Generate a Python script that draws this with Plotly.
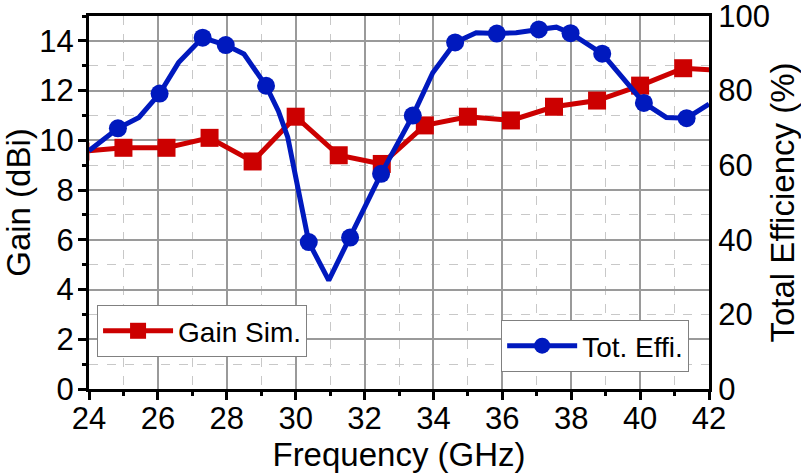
import plotly.graph_objects as go

# Gain (dBi) vs frequency (GHz) -- red squares
gain_freq = [23.75, 25.0, 26.25, 27.5, 28.75, 30.0, 31.25, 32.5, 33.75, 35.0,
             36.25, 37.5, 38.75, 40.0, 41.25, 42.5]
gain_vals = [9.55, 9.7, 9.7, 10.1, 9.15, 10.95, 9.4, 9.05, 10.6, 10.95,
             10.8, 11.35, 11.6, 12.2, 12.9, 12.8]

# Total efficiency (%) -- dense curve
eff_freq = [24.0, 24.84, 25.45, 26.05, 26.6, 27.3, 27.97, 28.5, 29.14, 29.5,
            29.77, 30.38, 30.96, 31.58, 32.48, 33.4, 33.98, 34.63, 35.24, 35.84,
            36.4, 37.06, 37.57, 37.98, 38.9, 40.11, 40.76, 41.35, 42.0]
eff_vals = [63.9, 69.9, 72.8, 79.2, 87.5, 94.2, 92.2, 89.8, 81.3, 74.5,
            67.5, 39.4, 29.1, 40.6, 57.7, 73.3, 84.8, 92.9, 95.5, 95.3,
            95.5, 96.4, 97.0, 95.4, 89.9, 76.7, 72.8, 72.6, 76.4]
# efficiency samples that carry a circle marker
eff_marker_freq = [24.84, 26.05, 27.3, 27.97, 29.14, 30.38, 31.58, 32.48, 33.4,
                   34.63, 35.84, 37.06, 37.98, 38.9, 40.11, 41.35]
eff_marker_vals = [69.9, 79.2, 94.2, 92.2, 81.3, 39.4, 40.6, 57.7, 73.3,
                   92.9, 95.3, 96.4, 95.4, 89.9, 76.7, 72.6]

x_ticks = [24, 26, 28, 30, 32, 34, 36, 38, 40, 42]
gain_ticks = [0, 2, 4, 6, 8, 10, 12, 14]
eff_ticks = [0, 20, 40, 60, 80, 100]

RED = "#CC0000"
BLUE = "#0019BE"
FONT = "Liberation Sans, Arial, sans-serif"

fig = go.Figure()

fig.add_trace(go.Scatter(
    x=gain_freq, y=gain_vals, mode="lines+markers", name="Gain Sim.",
    line=dict(color=RED, width=5),
    marker=dict(symbol="square", size=18, color=RED),
    legend="legend", yaxis="y"))

fig.add_trace(go.Scatter(
    x=eff_freq, y=eff_vals, mode="lines", showlegend=False,
    line=dict(color=BLUE, width=5), yaxis="y2"))
fig.add_trace(go.Scatter(
    x=eff_marker_freq, y=eff_marker_vals, mode="markers", showlegend=False,
    marker=dict(symbol="circle", size=18, color=BLUE), yaxis="y2"))
fig.add_trace(go.Scatter(
    x=[None], y=[None], mode="lines+markers", name="Tot. Effi.",
    line=dict(color=BLUE, width=5),
    marker=dict(symbol="circle", size=18, color=BLUE),
    legend="legend2", yaxis="y2"))

fig.update_layout(
    width=801, height=473,
    margin=dict(l=89, r=92, t=16, b=84, autoexpand=False),
    paper_bgcolor="white", plot_bgcolor="white",
    font=dict(family=FONT, color="black", size=31),
    xaxis=dict(
        range=[24, 42], tickvals=x_ticks, ticks="outside", ticklen=8, tickwidth=3,
        tickcolor="black", showline=True, linecolor="black", linewidth=3, mirror=True,
        showgrid=True, gridcolor="#9a9a9a", gridwidth=1.5, automargin=False,
        ticklabelstandoff=-8,
        minor=dict(dtick=1, tick0=24, ticks="outside", ticklen=4, tickwidth=3,
                   tickcolor="black", showgrid=True, gridcolor="#c8c8c8",
                   griddash="dash", gridwidth=1),
        title=dict(text="Frequency (GHz)", font=dict(size=33), standoff=0),
        tickfont=dict(size=31), zeroline=False),
    yaxis=dict(
        range=[0, 15], tickvals=gain_ticks, ticks="outside", ticklen=8, tickwidth=3,
        tickcolor="black", showline=True, linecolor="black", linewidth=3,
        showgrid=True, gridcolor="#9a9a9a", gridwidth=1.5, automargin=False,
        ticklabelstandoff=-2,
        minor=dict(dtick=1, tick0=0, ticks="outside", ticklen=4, tickwidth=3,
                   tickcolor="black", showgrid=True, gridcolor="#c8c8c8",
                   griddash="dash", gridwidth=1),
        title=dict(text="Gain (dBi)", font=dict(size=33), standoff=0),
        tickfont=dict(size=31), zeroline=False),
    yaxis2=dict(
        range=[0, 100], tickvals=eff_ticks, overlaying="y", side="right",
        showline=True, linecolor="black", linewidth=3, ticks="", showgrid=False,
        automargin=False, ticklabeloverflow="allow",
        title=dict(text="Total Efficiency (%)", font=dict(size=33), standoff=17),
        tickfont=dict(size=31), zeroline=False),
    legend=dict(x=0.013, y=0.225, xanchor="left", yanchor="top",
                bgcolor="white", bordercolor="#808080", borderwidth=1,
                font=dict(size=28), itemwidth=70),
    legend2=dict(x=0.968, y=0.185, xanchor="right", yanchor="top",
                 bgcolor="white", bordercolor="#808080", borderwidth=1,
                 font=dict(size=28), itemwidth=70),
)

fig.write_html("out.html", config={"displayModeBar": False},
               post_script="document.body.style.margin='0px';")
